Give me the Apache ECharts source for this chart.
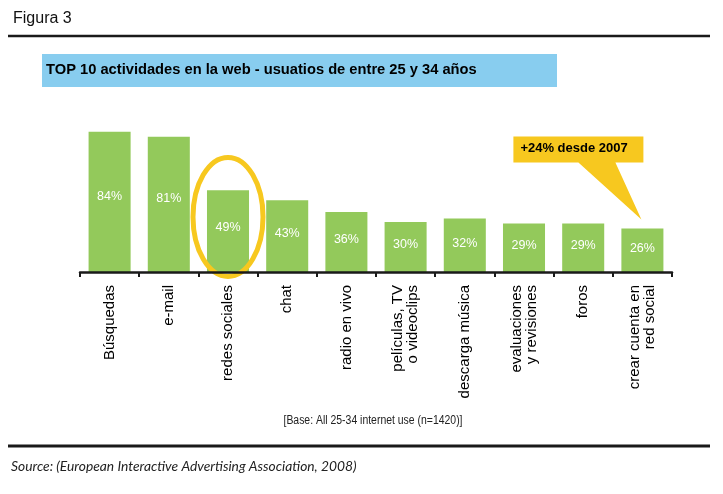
<!DOCTYPE html>
<html>
<head>
<meta charset="utf-8">
<script src="https://cdn.jsdelivr.net/npm/echarts@6/dist/echarts.min.js"></script>
<style>
html, body { margin: 0; padding: 0; background: #fff; }
#grafico { width: 723px; height: 494px; }
</style>
</head>
<body>
<div id="grafico"></div>
<script>
// datos
var categorias = ['Búsquedas', 'e-mail', 'redes sociales', 'chat', 'radio en vivo',
    'películas, TV\no videoclips', 'descarga música', 'evaluaciones\ny revisiones',
    'foros', 'crear cuenta en\nred social'];
var porcentajes = [84, 81, 49, 43, 36, 30, 32, 29, 29, 26];
var titulo = 'TOP 10 actividades en la web - usuatios de entre 25 y 34 años';
var nota = '+24% desde 2007';
var base = '[Base: All 25-34 internet use (n=1420)]';
var fuente = 'Source: (European Interactive Advertising Association, 2008)';

var verde = '#93c95b';
var amarillo = '#f7c81f';

var chart = echarts.init(document.getElementById('grafico'));

var decoracion = [
    { type: 'text', left: 13, top: 11, style: { text: 'Figura 3', font: '16px "Liberation Sans", Arial', fill: '#111' } },
    { type: 'line', shape: { x1: 8, y1: 36, x2: 710, y2: 36 }, style: { stroke: '#1a1a1a', lineWidth: 2.5 } },
    { type: 'rect', shape: { x: 42, y: 54, width: 515, height: 33 }, style: { fill: '#88cdef' } },
    { type: 'text', left: 46, top: 62, style: { text: titulo, font: 'bold 14.7px "Liberation Sans", Arial', fill: '#000' } },
    // texto estrecho: se comprime en horizontal
    { type: 'text', x: 373, y: 421, scaleX: 0.87,
      style: { text: base, x: 0, y: 0, align: 'center', verticalAlign: 'middle',
               font: '12px "Liberation Sans", Arial', fill: '#222' } },
    { type: 'line', shape: { x1: 8, y1: 446, x2: 710, y2: 446 }, style: { stroke: '#1a1a1a', lineWidth: 3 } },
    { type: 'text', left: 11, top: 460, style: { text: fuente, font: 'italic 13.8px Lato, "Open Sans", sans-serif', fill: '#222' } }
];

var option = {
    animation: false,
    grid: { left: 80, right: 51, top: 105, bottom: 222, containLabel: false },
    xAxis: {
        type: 'category',
        z: 12,
        data: categorias,
        boundaryGap: true,
        axisLine: { show: true, lineStyle: { color: '#1a1a1a', width: 2.5 } },
        axisTick: { show: true, alignWithLabel: false, length: 5, lineStyle: { color: '#1a1a1a', width: 2 } },
        axisLabel: {
            rotate: 90, interval: 0, margin: 13,
            color: '#000', fontSize: 15, fontFamily: '"Liberation Sans", Arial',
            lineHeight: 15
        },
        splitLine: { show: false }
    },
    yAxis: {
        type: 'value', min: 0, max: 100, show: false,
        splitLine: { show: false }
    },
    series: [{
        type: 'bar',
        data: porcentajes,
        barWidth: '71%',
        itemStyle: { color: verde },
        label: {
            show: true,
            position: ['50%', '46%'],
            align: 'center', verticalAlign: 'middle',
            color: '#fff', fontSize: 12.5, fontFamily: '"Liberation Sans", Arial',
            formatter: '{c}%'
        }
    }],
    graphic: decoracion
};
chart.setOption(option);

// anotaciones ancladas a los datos
var centro = chart.convertToPixel({ seriesIndex: 0 }, [categorias[2], 33]);
var punta = chart.convertToPixel({ seriesIndex: 0 }, [categorias[9], 26]);
var tx = punta[0] - 1, ty = punta[1] - 9;

chart.setOption({
    graphic: decoracion.concat([
        {
            type: 'ellipse', z: 10,
            shape: { cx: centro[0], cy: centro[1], rx: 35, ry: 59.5 },
            style: { fill: 'none', stroke: amarillo, lineWidth: 5 }
        },
        {
            type: 'polygon', z: 10,
            shape: { points: [
                [tx - 128, ty - 83], [tx + 2, ty - 83], [tx + 2, ty - 57],
                [tx - 26, ty - 57], [tx, ty], [tx - 63, ty - 57], [tx - 128, ty - 57]
            ] },
            style: { fill: amarillo }
        },
        {
            type: 'text', z: 11, left: tx - 121, top: ty - 78,
            style: { text: nota, font: 'bold 13px "Liberation Sans", Arial', fill: '#000' }
        }
    ])
});
</script>
</body>
</html>
